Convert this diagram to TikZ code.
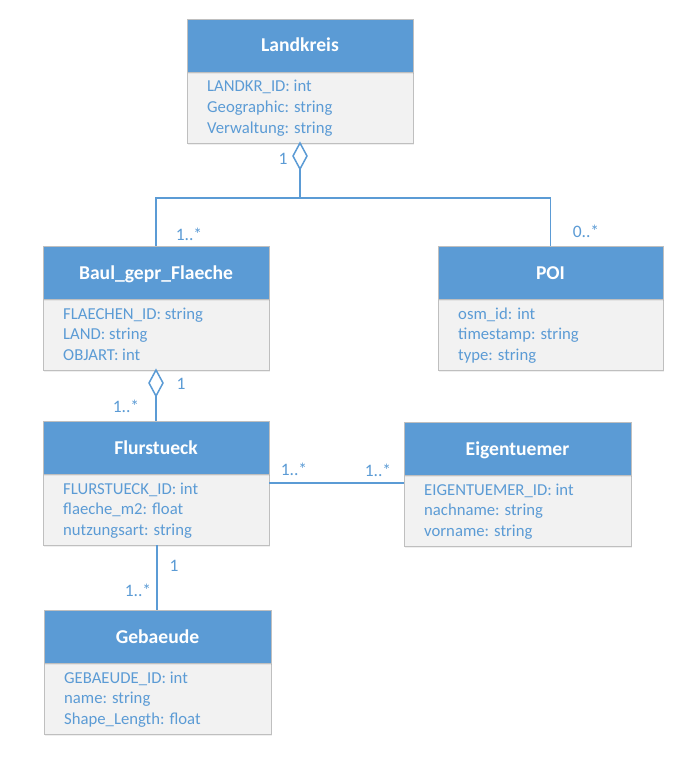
\documentclass[tikz,border=0pt]{standalone}
\usepackage{fontspec}
\setmainfont{Carlito}
\usetikzlibrary{shadows}
\definecolor{hblue}{HTML}{5B9BD5}
\definecolor{tblue}{HTML}{5B9BD5}
\definecolor{bodyg}{HTML}{F2F2F2}
\definecolor{bord}{HTML}{BFBFBF}
\tikzset{
  hdr/.style={rectangle, fill=hblue, draw=bord, line width=0.8pt, minimum height=53pt, inner sep=0pt, outer sep=0pt,
    drop shadow={opacity=0.12, shadow xshift=1pt, shadow yshift=-2pt}},
  bdy/.style={rectangle, fill=bodyg, draw=bord, line width=0.8pt, minimum height=71pt, inner sep=0pt, outer sep=0pt,
    drop shadow={opacity=0.12, shadow xshift=1pt, shadow yshift=-2pt}},
  ttl/.style={anchor=base, inner sep=0pt, text=white, font=\fontsize{19.6}{21}\selectfont\bfseries},
  attr/.style={anchor=base west, inner sep=0pt, text=tblue, font=\fontsize{16.7}{18}\selectfont},
  mult/.style={inner sep=0pt, text=tblue, font=\fontsize{17.5}{19}\selectfont},
  assoc/.style={draw=hblue, line width=1.5pt},
}
\newcommand\umlclass[8]{%
  \node[bdy, minimum width=#4, anchor=north west] (#1b) at (#2,#3+53) {};
  \node[hdr, minimum width=#4, anchor=north west] (#1) at (#2,#3) {};
  \node[ttl] (#1t) at ([yshift=-6.5pt]#1.center) {#5};
  \node[attr] (#1a1) at ([xshift=20pt,yshift=-20pt]#1b.north west) {#6};
  \node[attr] (#1a2) at ([xshift=20pt,yshift=-40.5pt]#1b.north west) {#7};
  \node[attr] (#1a3) at ([xshift=20pt,yshift=-61pt]#1b.north west) {#8};
}
\begin{document}
\begin{tikzpicture}[x=1pt,y=-1pt]
\useasboundingbox[fill=white] (0,0) rectangle (693,757);

\umlclass{lk}{187}{19}{226pt}{Landkreis}{LANDKR\_ID: int}{Geographic: string}{Verwaltung: string}
\umlclass{bp}{43}{246}{226pt}{Baul\_gepr\_Flaeche}{FLAECHEN\_ID: string}{LAND: string}{OBJART: int}
\umlclass{poi}{438}{246}{225pt}{POI}{osm\_id: int}{timestamp: string}{type: string}
\umlclass{fl}{43}{421}{226pt}{Flurstueck}{FLURSTUECK\_ID: int}{flaeche\_m2: float}{nutzungsart: string}
\umlclass{ei}{404}{422}{227pt}{Eigentuemer}{EIGENTUEMER\_ID: int}{nachname: string}{vorname: string}
\umlclass{gb}{44}{610}{227pt}{Gebaeude}{GEBAEUDE\_ID: int}{name: string}{Shape\_Length: float}

% Landkreis aggregation
\draw[assoc, fill=white] (lkb.south) -- ++(7,13) -- ++(-7,13) coordinate (d1) -- ++(-7,-13) -- cycle;
\coordinate (j) at (300,198);
\draw[assoc] (d1) -- (j);
\draw[assoc] (bp.north) |- (j) -| (poi.north);

% Baul -> Flurstueck aggregation
\draw[assoc, fill=white] (bpb.south) -- ++(7,13) -- ++(-7,13) coordinate (d2) -- ++(-7,-13) -- cycle;
\draw[assoc] (d2) -- (d2 |- fl.north);

% Flurstueck -- Eigentuemer
\draw[assoc] (flb.east |- 0,483) -- (eib.west |- 0,483);

% Flurstueck -- Gebaeude
\draw[assoc] (flb.south -| 157,0) -- (gb.north -| 157,0);

% multiplicities
\node[mult] (m1) at (283,159) {1};
\node[mult] (m2) at (189,234) {1..*};
\node[mult] (m3) at (586,231) {0..*};
\node[mult] (m4) at (181,384) {1};
\node[mult] (m5) at (126,406) {1..*};
\node[mult] (m6) at (294,469) {1..*};
\node[mult] (m7) at (378,470) {1..*};
\node[mult] (m8) at (174,566) {1};
\node[mult] (m9) at (138,590) {1..*};
\end{tikzpicture}
\end{document}
